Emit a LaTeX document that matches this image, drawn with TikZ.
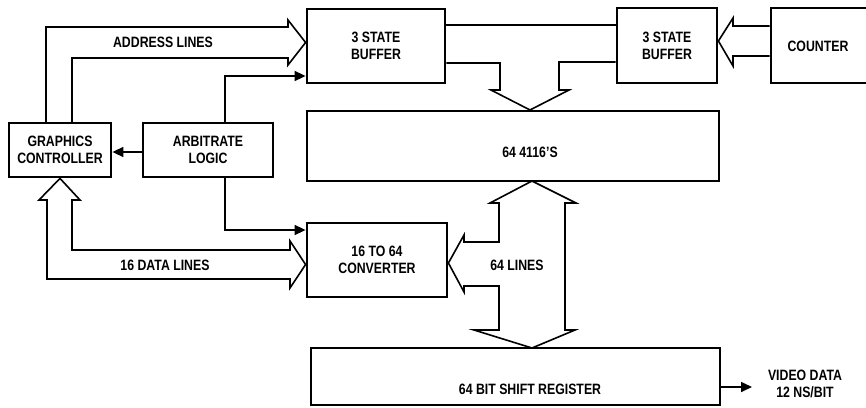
\documentclass[tikz,border=0pt]{standalone}
\usepackage{fontspec}
\setmainfont{Liberation Sans}[FakeStretch=0.82]
\usetikzlibrary{arrows.meta}
\begin{document}
\begin{tikzpicture}[x=1pt,y=-1pt,
  font=\fontsize{15}{17}\selectfont\bfseries,
  blk/.style={draw,line width=2.8pt,inner sep=0pt,align=center},
  wire/.style={line width=1.6pt,line join=miter},
  sig/.style={wire,-{Triangle[length=11pt,width=10pt]}},
  bus/.style={line width=1.6pt,line join=miter}]
\useasboundingbox (0,0) rectangle (866,407);
% blocks
\node[blk,minimum width=102pt,minimum height=54pt] (gc) at (60,150) {GRAPHICS\\CONTROLLER};
\node[blk,minimum width=130pt,minimum height=54pt] (arb) at (208,150) {ARBITRATE\\LOGIC};
\node[blk,minimum width=138pt,minimum height=74pt] (buf1) at (376,46) {3 STATE\\BUFFER};
\node[blk,minimum width=100pt,minimum height=75pt] (buf2) at (667,45.5) {3 STATE\\BUFFER};
\node[blk,minimum width=100pt,minimum height=75pt] (cnt) at (821,45.5) {};
\node (cnttext) at (818,46) {COUNTER};
\node[blk,minimum width=412pt,minimum height=70pt] (mem) at (513,146) {};
\node (memtext) at (530,152) {64 4116'S};
\node[blk,minimum width=140pt,minimum height=74pt] (conv) at (377,260) {16 TO 64\\CONVERTER};
\node[blk,minimum width=409pt,minimum height=57pt] (sr) at (515.5,376.5) {};
\node (srtext) at (530,389) {64 BIT SHIFT REGISTER};
% labels
\node (addr) at (163,42) {ADDRESS LINES};
\node (data) at (165,265) {16 DATA LINES};
\node (l64) at (517,265) {64 LINES};
\node[align=center] (video) at (805,384) {VIDEO DATA\\12 NS/BIT};
% address bus
\draw[bus] (46,123) -- (46,27) -- (288,27) -- (288,20) -- (buf1.west |- 0,42.5) -- (288,65) -- (288,58) -- (72,58) -- (72,123);
% control lines
\draw[sig] (225,123) -- (225,76) -- (buf1.west |- 0,76);
\draw[sig] (arb.west |- 0,152) -- (gc.east |- 0,152);
\draw[sig] (225,177) -- (225,230) -- (conv.west |- 0,230);
% data bus
\draw[bus] (47,279) -- (47,200) -- (39,200) -- (gc.south) -- (80,200) -- (72,200) -- (72,250) -- (290,250) -- (290,241) -- (conv.west |- 0,264.5) -- (290,288) -- (290,279) -- cycle;
% buffers to memory bus
\draw[bus] (buf1.east |- 0,25) -- (buf2.west |- 0,25);
\draw[bus] (buf1.east |- 0,63) -- (500,63) -- (500,90) -- (491,90) -- (530,110) -- (569,90) -- (559,90) -- (559,62) -- (buf2.west |- 0,62);
% counter bus
\draw[bus] (cnt.west |- 0,26) -- (733,26) -- (733,18) -- (buf2.east |- 0,41) -- (733,66) -- (733,56) -- (cnt.west |- 0,56);
% 64 lines bus
\draw[bus] (565,203) -- (576,203) -- (532,181) -- (490,203) -- (499,203) -- (499,242) -- (464,242) -- (464,235) -- (conv.east |- 0,263) -- (464,292) -- (464,286) -- (499,286) -- (499,330) -- (474,330) -- (532,348) -- (575,330) -- (565,330) -- cycle;
% video out
\coordinate (vd) at (752,387);
\draw[sig] (sr.east |- vd) -- (vd);
\end{tikzpicture}
\end{document}
